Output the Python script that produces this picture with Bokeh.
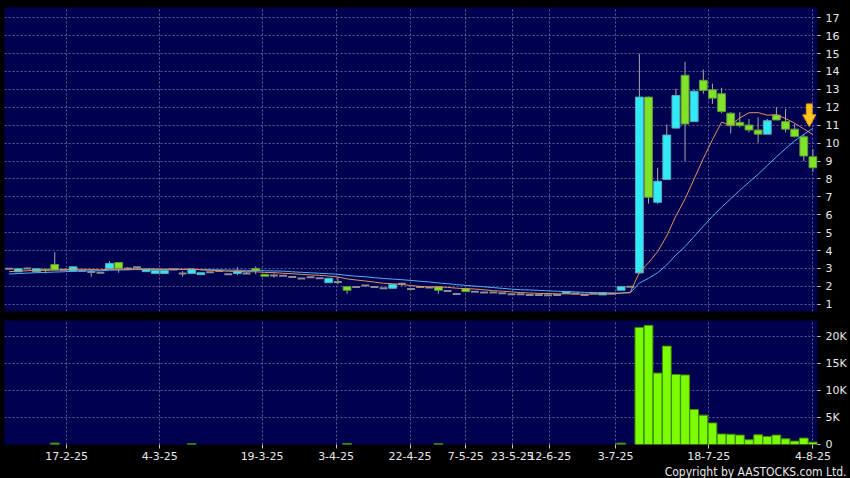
import numpy as np
from bokeh.plotting import figure
from bokeh.layouts import column
from bokeh.models import Range1d, FixedTicker, Grid, Title, CustomJSTickFormatter
from bokeh.embed import file_html
from bokeh.resources import INLINE

# ---------------- data ----------------
opens = [
    2.98, 2.81, 3.00, 2.81, 2.96, 3.22, 2.93, 2.85, 2.87, 2.80,
    2.76, 3.00, 3.33, 3.00, 3.07, 2.82, 2.72, 2.72, 2.94, 2.72,
    2.72, 2.65, 2.78, 2.85, 2.67, 2.72, 2.72, 3.00, 2.67, 2.61,
    2.59, 2.52, 2.43, 2.50, 2.45, 2.20, 2.24, 1.98, 1.96, 2.05,
    1.96, 1.89, 1.89, 2.15, 1.85, 1.96, 1.93, 1.98, 1.74, 1.57,
    1.87, 1.70, 1.65, 1.65, 1.61, 1.56, 1.56, 1.52, 1.52, 1.50,
    1.52, 1.61, 1.60, 1.52, 1.61, 1.52, 1.60, 1.78, 1.98,
    2.75, 12.57, 6.69, 7.97, 10.84, 13.79, 11.20, 13.51, 12.98, 12.76,
    11.67, 11.16, 11.01, 10.73, 10.50, 11.57, 11.20, 10.78, 10.35, 9.24,
]
highs = [
    2.98, 2.98, 3.00, 2.98, 2.96, 3.91, 2.93, 3.09, 2.87, 2.94,
    2.76, 3.41, 3.33, 3.07, 3.07, 2.94, 2.89, 2.89, 2.94, 2.85,
    2.96, 2.76, 2.78, 2.85, 2.67, 3.07, 2.80, 3.11, 2.67, 2.72,
    2.59, 2.52, 2.43, 2.50, 2.45, 2.45, 2.52, 1.98, 1.96, 2.05,
    1.96, 1.89, 2.11, 2.20, 1.85, 1.96, 1.93, 1.98, 1.74, 1.57,
    1.87, 1.70, 1.65, 1.65, 1.61, 1.56, 1.56, 1.52, 1.52, 1.50,
    1.52, 1.70, 1.60, 1.52, 1.61, 1.65, 1.60, 1.98, 1.98,
    15.00, 12.60, 8.62, 11.03, 13.04, 14.54, 12.98, 14.11, 13.32, 13.09,
    11.72, 11.72, 11.35, 11.44, 11.35, 12.00, 11.91, 11.07, 10.50, 9.66,
]
lows = [
    2.98, 2.81, 3.00, 2.81, 2.72, 2.91, 2.93, 2.85, 2.87, 2.54,
    2.76, 3.00, 2.76, 2.89, 3.07, 2.82, 2.68, 2.72, 2.94, 2.54,
    2.72, 2.63, 2.78, 2.85, 2.67, 2.63, 2.72, 2.67, 2.56, 2.48,
    2.59, 2.52, 2.43, 2.50, 2.45, 2.20, 2.11, 1.59, 1.96, 2.05,
    1.96, 1.89, 1.89, 2.02, 1.85, 1.96, 1.93, 1.59, 1.74, 1.57,
    1.70, 1.70, 1.65, 1.65, 1.61, 1.56, 1.56, 1.52, 1.52, 1.50,
    1.52, 1.61, 1.60, 1.52, 1.61, 1.52, 1.60, 1.78, 1.98,
    2.70, 6.62, 6.60, 7.95, 10.80, 9.00, 11.20, 12.76, 12.19, 11.67,
    10.54, 10.88, 10.60, 10.03, 10.50, 11.29, 10.60, 10.31, 9.00, 8.40,
]
closes = [
    2.98, 2.98, 3.00, 2.98, 2.89, 2.91, 2.93, 3.09, 2.87, 2.80,
    2.76, 3.28, 3.00, 3.00, 3.07, 2.94, 2.89, 2.89, 2.94, 2.72,
    2.96, 2.76, 2.78, 2.85, 2.67, 2.85, 2.72, 2.89, 2.56, 2.61,
    2.59, 2.52, 2.43, 2.50, 2.45, 2.45, 2.24, 1.78, 1.96, 2.05,
    1.96, 1.89, 2.11, 2.15, 1.85, 1.96, 1.93, 1.78, 1.74, 1.57,
    1.70, 1.70, 1.65, 1.65, 1.61, 1.56, 1.56, 1.52, 1.52, 1.50,
    1.52, 1.70, 1.60, 1.52, 1.61, 1.65, 1.60, 1.98, 1.98,
    12.57, 6.97, 7.87, 10.45, 12.66, 11.07, 12.90, 12.94, 12.51, 11.76,
    10.97, 10.97, 10.73, 10.50, 11.25, 11.29, 10.78, 10.37, 9.28, 8.62,
]
# closes before the first visible session (needed for the moving averages)
prior_closes = [2.50, 2.50, 2.55, 2.55, 2.50, 2.60, 2.55, 2.60, 2.60, 2.65,
                2.70, 2.75, 2.75, 2.80, 2.80, 2.85, 2.80, 2.85, 2.90]
volumes_k = [
    0, 0, 0, 0, 0, 0.25, 0, 0, 0, 0,
    0, 0, 0, 0, 0, 0, 0, 0, 0, 0,
    0.15, 0, 0, 0, 0, 0, 0, 0, 0, 0,
    0, 0, 0, 0, 0, 0, 0, 0.2, 0, 0,
    0, 0, 0, 0, 0, 0, 0, 0.15, 0, 0,
    0, 0, 0, 0, 0, 0, 0, 0, 0, 0,
    0, 0, 0, 0, 0, 0, 0, 0.25, 0,
    21.7, 22.1, 13.25, 18.25, 13.0, 12.9, 6.5, 5.44, 4.0, 1.94,
    1.9, 1.75, 0.88, 1.8, 1.5, 1.75, 1.06, 0.63, 1.19, 0.44,
]
date_tick_pos = [6.3, 16.5, 27.7, 35.8, 43.9, 50.0, 55.1, 59.2, 66.4, 76.6, 88.0]
date_tick_labels = ["17-2-25", "4-3-25", "19-3-25", "3-4-25", "22-4-25", "7-5-25",
                    "23-5-25", "12-6-25", "3-7-25", "18-7-25", "4-8-25"]
price_ticks = list(range(1, 18))
volume_ticks = [0, 5, 10, 15, 20]
volume_tick_labels = ["0", "5K", "10K", "15K", "20K"]
arrow_x = 87.6
arrow_tip = 10.92

# ---------------- derived ----------------
n = len(closes)
idx = np.arange(n)
o = np.array(opens); h = np.array(highs); l = np.array(lows); c = np.array(closes)
vol = np.array(volumes_k)
allc = np.concatenate([np.array(prior_closes), c])
ma10 = np.convolve(allc, np.ones(10) / 10, mode="valid")[-n:]
ma20 = np.convolve(allc, np.ones(20) / 20, mode="valid")[-n:]
up = c > o
dn = c < o
flat = c == o
traded = vol > 0

FONT = "DejaVu Sans"
NAVY = "#000050"
GRIDC = "#5e5e90"
TXT = "#E8E8E8"

xr = Range1d(-0.5, n - 0.5)


def style_grid(p, xticks, yticks):
    p.center = [r for r in p.center if not isinstance(r, Grid)]
    for dim, tk in ((0, xticks), (1, yticks)):
        g = Grid(dimension=dim, ticker=FixedTicker(ticks=tk), grid_line_color=GRIDC,
                 grid_line_dash="2 2", grid_line_width=1)
        p.add_layout(g, "center")


def style_axis(ax):
    ax.axis_line_color = None
    ax.major_tick_line_color = "#C8C8C8"
    ax.major_tick_out = 3
    ax.major_tick_in = 0
    ax.minor_tick_line_color = None
    ax.major_label_text_color = TXT
    ax.major_label_text_font = FONT
    ax.major_label_text_font_size = "11px"
    ax.major_label_standoff = 5


# ---------------- price panel ----------------
p1 = figure(width=850, height=315, x_range=xr, y_range=Range1d(0.593, 17.575),
            output_backend="svg", toolbar_location=None, x_axis_location=None,
            y_axis_location="right", min_border_left=4, min_border_top=7,
            min_border_bottom=4, min_border_right=33,
            background_fill_color=NAVY, border_fill_color="black", outline_line_color=None)
style_grid(p1, date_tick_pos, price_ticks)
p1.yaxis.ticker = FixedTicker(ticks=price_ticks)
style_axis(p1.yaxis[0])

p1.segment(x0=idx, y0=l, x1=idx, y1=h, line_color="#A8A8A8", line_width=1)
p1.vbar(x=idx[up], bottom=o[up], top=c[up], width=0.86,
        fill_color="#30EAF8", line_color="#5AAAB4", line_width=1)
p1.vbar(x=idx[dn], bottom=c[dn], top=o[dn], width=0.86,
        fill_color="#82E22A", line_color="#5C9A32", line_width=1)
p1.segment(x0=idx[flat] - 0.43, y0=c[flat], x1=idx[flat] + 0.43, y1=c[flat],
           line_color="#8C8C8C", line_width=2)
p1.line(idx, ma20, line_color="#52B0F0", line_width=1)
p1.line(idx, ma10, line_color="#E0925E", line_width=1)

hw_head, hw_shaft, head_h, total_h = 0.72, 0.32, 0.66, 1.27
ax_xs = [arrow_x - hw_shaft, arrow_x + hw_shaft, arrow_x + hw_shaft, arrow_x + hw_head,
         arrow_x, arrow_x - hw_head, arrow_x - hw_shaft]
ax_ys = [arrow_tip + total_h, arrow_tip + total_h, arrow_tip + head_h, arrow_tip + head_h,
         arrow_tip, arrow_tip + head_h, arrow_tip + head_h]
p1.patch(ax_xs, ax_ys, fill_color="#FFC41E", line_color="#E49A00", line_width=1)

# ---------------- volume panel ----------------
p2 = figure(width=850, height=163, x_range=xr, y_range=Range1d(0, 23.0),
            output_backend="svg", toolbar_location=None,
            y_axis_location="right", min_border_left=4, min_border_top=5,
            min_border_bottom=0, min_border_right=33,
            background_fill_color=NAVY, border_fill_color="black", outline_line_color=None)
style_grid(p2, date_tick_pos, volume_ticks)
p2.yaxis.ticker = FixedTicker(ticks=volume_ticks)
p2.yaxis.formatter = CustomJSTickFormatter(
    args=dict(pos=volume_ticks, labels=volume_tick_labels),
    code="const i = pos.findIndex(t => Math.abs(t - tick) < 1e-6); return i >= 0 ? labels[i] : '';")
style_axis(p2.yaxis[0])
p2.xaxis.ticker = FixedTicker(ticks=date_tick_pos)
p2.xaxis.formatter = CustomJSTickFormatter(
    args=dict(pos=date_tick_pos, labels=date_tick_labels),
    code="const i = pos.findIndex(t => Math.abs(t - tick) < 1e-6); return i >= 0 ? labels[i] : '';")
style_axis(p2.xaxis[0])
p2.xaxis.major_tick_out = 4
p2.xaxis.major_label_standoff = 3

p2.vbar(x=idx[traded], bottom=0, top=vol[traded], width=0.96,
        fill_color="#7CFC00", line_color="#3E8E00", line_width=1)

p2.add_layout(Title(text="Copyright by AASTOCKS.com Ltd.", align="right", offset=-29,
                    text_font_size="12px", text_color=TXT, text_font="DejaVu Sans Condensed",
                    text_font_style="normal", standoff=0), "below")

layout = column(p1, p2, spacing=0, styles={"background-color": "black"})
open("out.html", "w").write(file_html(layout, INLINE))
